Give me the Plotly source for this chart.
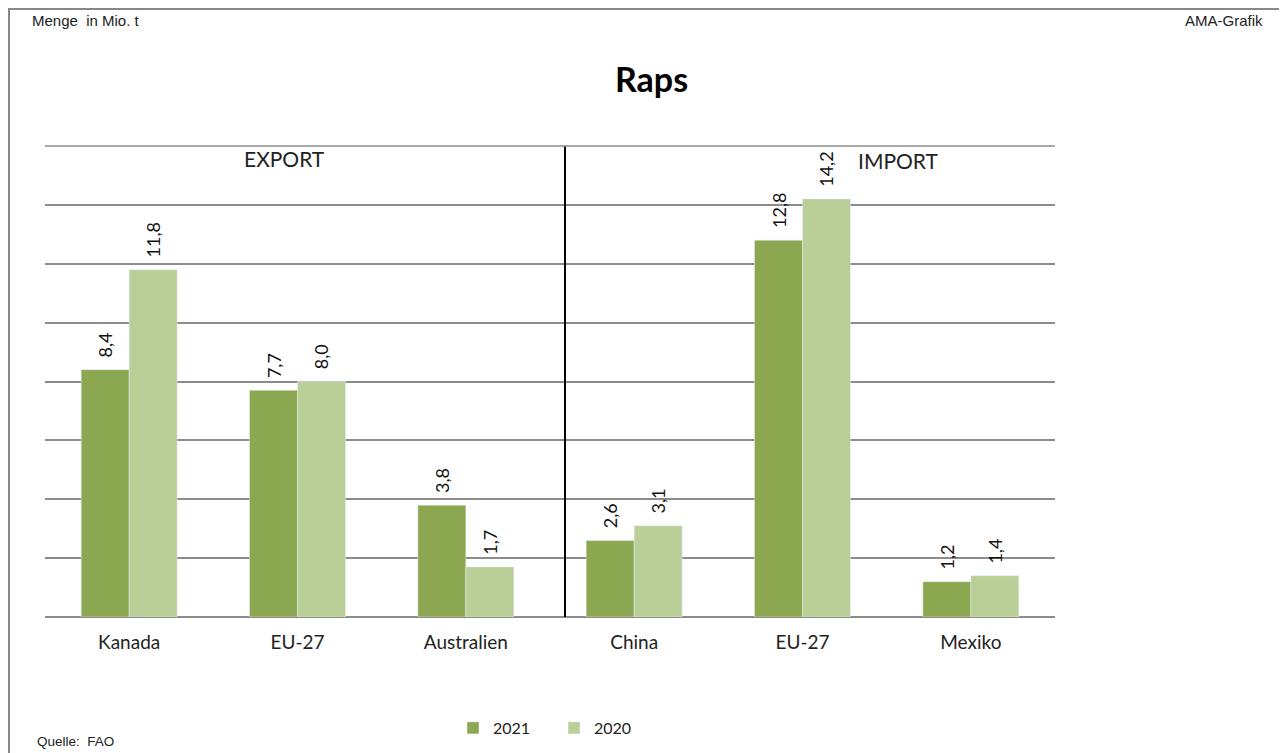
import plotly.graph_objects as go

# Raps: Export/Import, Menge in Mio. t
laender = ["Kanada", "EU-27", "Australien", "China", "EU-27", "Mexiko"]
werte_2021 = [8.4, 7.7, 3.8, 2.6, 12.8, 1.2]
werte_2020 = [11.8, 8.0, 1.7, 3.1, 14.2, 1.4]
pos = list(range(len(laender)))

# page body adds 8px margin -> figure is drawn 8px in from the window corner
OFF = 8
W, H = 1287 - OFF, 753 - OFF
L, R, T, B = 45 - OFF, 1287 - 1055, 146 - OFF, 753 - 617
pw, ph = W - L - R, H - T - B


def px_x(x):
    # window pixel -> paper coordinate
    return (x - OFF - L) / pw


def px_y(y):
    return (H - B - (y - OFF)) / ph


lbl_font = dict(size=18, color="#111", family="Lato")
fig = go.Figure()
fig.add_bar(x=pos, y=werte_2021, name="2021", marker_color="#8BA74F",
            texttemplate="  %{y:.1f}", textposition="outside", textangle=-90,
            textfont=lbl_font, cliponaxis=False)
fig.add_bar(x=pos, y=werte_2020, name="2020", marker_color="#BACF97",
            texttemplate="  %{y:.1f}", textposition="outside", textangle=-90,
            textfont=lbl_font, cliponaxis=False)

fig.update_layout(
    width=W, height=H,
    margin=dict(l=L, r=R, t=T, b=B, autoexpand=False),
    paper_bgcolor="white", plot_bgcolor="white",
    separators=",.",
    barmode="group", bargap=0.43, bargroupgap=0,
    font=dict(family="Lato", color="#222"),
    showlegend=True,
    legend=dict(orientation="h", xref="container", yref="container",
                x=(453 - OFF) / W, xanchor="left",
                y=(H - (728 - OFF)) / H, yanchor="middle",
                font=dict(size=16, family="Lato", color="#222"), itemwidth=30,
                entrywidth=56, entrywidthmode="pixels"),
    xaxis=dict(range=[-0.5, 5.5], tickvals=pos, ticktext=laender, showgrid=False,
               ticks="outside", ticklen=8, tickcolor="white",
               tickfont=dict(size=19, family="Lato", color="#222"), zeroline=False),
    yaxis=dict(range=[0, 16], dtick=2, showticklabels=False, showgrid=True,
               gridcolor="#8c8c8c", gridwidth=1.5, zeroline=True,
               zerolinecolor="#8c8c8c", zerolinewidth=1.5),
)

# Trennlinie Export / Import
fig.add_shape(type="line", xref="paper", yref="paper", x0=px_x(565), x1=px_x(565),
              y0=0, y1=1, line=dict(color="black", width=2))
# oberer Gridstrich
fig.add_shape(type="line", xref="paper", yref="paper", x0=0, x1=1, y0=1, y1=1,
              line=dict(color="#8c8c8c", width=1.5))

# Rahmen oben und links
fig.add_shape(type="line", xref="paper", yref="paper", x0=px_x(8), x1=px_x(1287),
              y0=px_y(9), y1=px_y(9), line=dict(color="#888", width=2))
fig.add_shape(type="line", xref="paper", yref="paper", x0=px_x(9), x1=px_x(9),
              y0=px_y(9), y1=px_y(753), line=dict(color="#888", width=2))

ann = [
    dict(text="Menge  in Mio. t", x=px_x(30), y=px_y(20), xanchor="left",
         font=dict(family="Liberation Sans", size=15, color="#222")),
    dict(text="AMA-Grafik", x=px_x(1265), y=px_y(20), xanchor="right",
         font=dict(family="Liberation Sans", size=15, color="#222")),
    dict(text="Quelle:  FAO", x=px_x(35), y=px_y(741), xanchor="left",
         font=dict(family="Liberation Sans", size=13.5, color="#222")),
    dict(text="<b>Raps</b>", x=px_x(651), y=px_y(78), xanchor="center",
         font=dict(family="Lato", size=34, color="black")),
    dict(text="EXPORT", x=px_x(284), y=px_y(158), xanchor="center",
         font=dict(family="Lato", size=21, color="#222")),
    dict(text="IMPORT", x=px_x(898), y=px_y(160), xanchor="center",
         font=dict(family="Lato", size=21, color="#222")),
]
for a in ann:
    fig.add_annotation(xref="paper", yref="paper", yanchor="middle", showarrow=False, **a)

fig.write_html("out.html")
